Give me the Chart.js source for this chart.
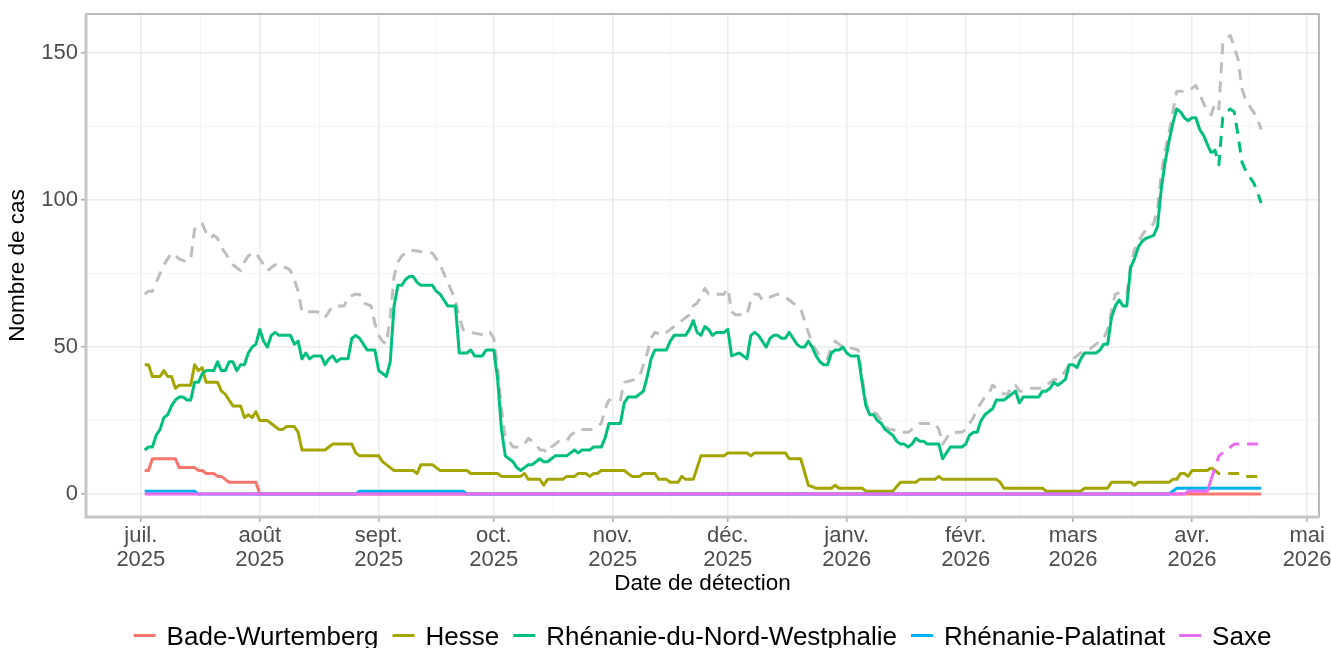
<!DOCTYPE html>
<html><head><meta charset="utf-8">
<script src="https://cdn.jsdelivr.net/npm/chart.js@4.4.1/dist/chart.umd.min.js"></script>
<style>html,body{margin:0;padding:0;background:#fff;overflow:hidden}#wrap{width:1331px;height:648px;position:relative}</style>
</head><body><div id="wrap"><canvas id="c" width="1331" height="648"></canvas></div>
<script>
// Day 0 = 1 July 2025 (detection date, daily counts)
const monthTickDays = [0,31,62,92,123,153,184,215,243,274,304];
const monthTickLabels = [['juil.','2025'],['août','2025'],['sept.','2025'],['oct.','2025'],['nov.','2025'],['déc.','2025'],['janv.','2026'],['févr.','2026'],['mars','2026'],['avr.','2026'],['mai','2026']];
const yTickValues = [0,50,100,150];
const seriesNames = ['Bade-Wurtemberg','Hesse','Rhénanie-du-Nord-Westphalie','Rhénanie-Palatinat','Saxe'];
const provisionalFromDay = 279;

const badeWurtemberg = [[1,8],[2,8],[3,12],[9,12],[10,9],[14,9],[15,8],[16,8],[17,7],[19,7],[20,6],[21,6],[22,5],[23,4],[30,4],[31,0],[292,0]];
const hesse = [[1,44],[2,44],[3,40],[5,40],[6,42],[7,40],[8,40],[9,36],[10,37],[13,37],[14,44],[15,42],[16,43],[17,38],[20,38],[21,35],[22,34],[23,32],[24,30],[26,30],[27,26],[28,27],[29,26],[30,28],[31,25],[33,25],[34,24],[35,23],[36,22],[37,22],[38,23],[40,23],[41,21],[42,15],[48,15],[49,16],[50,17],[55,17],[56,14],[57,13],[62,13],[63,11],[64,10],[65,9],[66,8],[71,8],[72,7],[73,10],[76,10],[77,9],[78,8],[85,8],[86,7],[93,7],[94,6],[99,6],[100,7],[101,5],[104,5],[105,3],[106,5],[110,5],[111,6],[113,6],[114,7],[116,7],[117,6],[118,7],[119,7],[120,8],[126,8],[127,7],[128,6],[130,6],[131,7],[134,7],[135,5],[137,5],[138,4],[140,4],[141,6],[142,5],[144,5],[146,13],[152,13],[153,14],[158,14],[159,13],[160,14],[168,14],[169,12],[172,12],[174,3],[176,2],[180,2],[181,3],[182,2],[188,2],[189,1],[196,1],[198,4],[202,4],[203,5],[207,5],[208,6],[209,5],[223,5],[224,4],[225,2],[235,2],[236,1],[245,1],[246,2],[252,2],[253,4],[258,4],[259,3],[260,4],[268,4],[269,5],[270,5],[271,7],[272,7],[273,6],[274,8],[278,8],[279,9],[280,8],[281,7],[287,7],[288,6],[292,6]];
const rhenanieNordWestphalie = [[1,15],[2,16],[3,16],[4,20],[5,22],[6,26],[7,27],[8,30],[9,32],[10,33],[11,33],[12,32],[13,32],[14,38],[15,38],[16,41],[17,42],[19,42],[20,45],[21,42],[22,42],[23,45],[24,45],[25,42],[26,44],[27,44],[28,48],[29,50],[30,51],[31,56],[32,52],[33,50],[34,54],[35,55],[36,54],[39,54],[40,51],[41,52],[42,46],[43,48],[44,46],[45,47],[47,47],[48,44],[49,46],[50,47],[51,45],[52,46],[54,46],[55,53],[56,54],[57,53],[58,51],[59,49],[61,49],[62,42],[63,41],[64,40],[65,45],[66,64],[67,71],[68,71],[69,73],[70,74],[71,74],[72,72],[73,71],[76,71],[77,69],[78,68],[79,66],[80,64],[82,64],[83,48],[85,48],[86,49],[87,47],[89,47],[90,49],[92,49],[93,39],[94,22],[95,13],[96,12],[97,11],[98,9],[99,8],[100,9],[101,10],[102,10],[103,11],[104,12],[105,11],[106,11],[107,12],[108,13],[111,13],[112,14],[113,15],[114,14],[115,15],[117,15],[118,16],[120,16],[121,19],[122,24],[125,24],[126,31],[127,33],[128,33],[129,33],[130,34],[131,35],[132,40],[133,46],[134,49],[137,49],[138,52],[139,54],[142,54],[143,56],[144,59],[145,55],[146,54],[147,57],[148,56],[149,54],[150,55],[152,55],[153,56],[154,47],[156,48],[157,47],[158,46],[159,54],[160,55],[161,54],[162,52],[163,50],[164,53],[165,54],[166,54],[167,53],[168,53],[169,55],[170,53],[171,51],[172,50],[173,50],[174,52],[175,50],[176,47],[177,45],[178,44],[179,44],[180,48],[181,49],[182,49],[183,50],[184,48],[185,47],[187,47],[188,38],[189,30],[190,27],[191,27],[192,25],[193,24],[194,22],[195,21],[196,20],[197,18],[198,17],[199,17],[200,16],[201,17],[202,19],[203,18],[204,18],[205,17],[208,17],[209,12],[210,14],[211,16],[214,16],[215,17],[216,20],[217,21],[218,21],[219,25],[220,27],[221,28],[222,29],[223,32],[225,32],[226,33],[227,34],[228,35],[229,31],[230,33],[234,33],[235,35],[236,35],[237,36],[238,38],[239,37],[240,38],[241,39],[242,44],[243,44],[244,43],[245,46],[246,48],[249,48],[250,49],[251,51],[252,51],[253,60],[254,64],[255,66],[256,64],[257,64],[258,77],[259,80],[260,84],[261,86],[262,87],[264,88],[265,91],[266,104],[267,113],[268,120],[269,126],[270,131],[271,130],[272,128],[273,127],[274,128],[275,128],[276,124],[277,122],[278,119],[279,116],[280,117],[281,112],[282,128],[283,130],[284,131],[285,130],[286,122],[287,113],[288,110],[289,108],[290,106],[291,103],[292,99]];
const rhenaniePalatinat = [[1,1],[14,1],[15,0],[56,0],[57,1],[84,1],[85,0],[268,0],[270,2],[292,2]];
const saxe = [[1,0],[272,0],[273,1],[278,1],[279,5],[280,9],[281,13],[282,14],[283,15],[284,16],[285,17],[292,17]];
const totalCases = [[1,68],[2,69],[3,69],[4,72],[5,75],[6,78],[7,80],[8,82],[9,81],[10,80],[12,79],[13,80],[14,90],[15,92],[16,92],[17,89],[18,87],[19,88],[20,87],[21,84],[22,82],[23,80],[24,78],[25,77],[26,76],[27,79],[28,81],[29,82],[30,82],[31,80],[32,78],[33,76],[34,77],[35,78],[36,78],[37,77],[38,77],[39,76],[40,73],[41,69],[42,62],[43,62],[46,62],[47,61],[48,60],[49,62],[50,64],[53,64],[54,67],[56,68],[57,68],[58,65],[60,64],[61,58],[62,54],[63,52],[64,51],[65,60],[66,74],[67,79],[68,81],[69,82],[70,83],[76,82],[77,80],[78,78],[79,75],[80,72],[81,69],[82,66],[83,60],[84,56],[85,55],[86,55],[90,54],[91,55],[92,53],[93,43],[94,29],[95,19],[96,18],[97,16],[99,16],[100,17],[101,19],[102,18],[103,17],[104,15],[105,15],[106,14],[107,16],[108,17],[109,18],[111,18],[112,20],[113,21],[114,22],[118,22],[119,23],[120,24],[121,29],[122,32],[125,32],[126,38],[129,39],[130,40],[131,44],[132,48],[133,53],[134,55],[136,54],[137,55],[139,57],[140,58],[142,60],[143,61],[144,64],[145,65],[146,67],[147,70],[148,68],[152,68],[153,70],[154,62],[155,61],[158,61],[159,66],[160,68],[161,68],[162,66],[163,67],[164,67],[166,68],[168,67],[169,66],[170,65],[171,64],[172,63],[173,59],[174,55],[175,51],[176,49],[177,47],[178,46],[179,46],[180,50],[181,52],[182,51],[183,50],[184,50],[187,49],[188,40],[189,31],[190,28],[191,28],[192,27],[193,25],[194,23],[195,22],[196,22],[197,21],[200,21],[201,22],[202,23],[203,24],[207,24],[208,22],[209,17],[210,19],[211,21],[214,21],[215,22],[216,24],[217,26],[218,29],[219,31],[220,33],[221,34],[222,37],[223,36],[224,35],[225,34],[226,34],[227,37],[228,37],[229,35],[230,35],[232,36],[235,36],[236,37],[237,38],[238,39],[239,39],[240,40],[241,42],[242,44],[243,46],[245,48],[247,49],[248,50],[249,51],[250,52],[251,53],[252,56],[253,62],[254,68],[256,69],[257,68],[258,78],[259,83],[260,86],[261,88],[262,90],[264,92],[265,97],[266,109],[267,117],[268,123],[269,130],[270,137],[273,137],[274,138],[275,139],[276,136],[277,133],[278,130],[279,129],[280,133],[281,131],[282,153],[283,155],[284,156],[286,148],[287,138],[288,134],[289,132],[290,130],[291,128],[292,124]];

const seriesData = [badeWurtemberg, hesse, rhenanieNordWestphalie, rhenaniePalatinat, saxe];
const seriesColors = ['#F8766D','#A3A500','#00BF7D','#00B0F6','#E76BF3'];
const FONT = '"Liberation Sans", Arial, sans-serif';
const DASH = [11,8];
const LINE_W = 3;

const minorX = monthTickDays.slice(1).map((d,i)=>(d+monthTickDays[i])/2);
const xTickAll = monthTickDays.concat(minorX).sort((a,b)=>a-b);
const yTickAll = [0,25,50,75,100,125,150];
const isMajorX = v => monthTickDays.includes(v);
const isMajorY = v => yTickValues.includes(v);

const datasets = seriesNames.map((name,i)=>({
  label: name,
  data: seriesData[i],
  borderColor: seriesColors[i],
  backgroundColor: seriesColors[i],
  borderWidth: LINE_W,
  pointRadius: 0,
  tension: 0,
  borderJoinStyle: 'round',
  order: 5 - i,
  segment: { borderDash: ctx => ctx.p0.parsed.x >= provisionalFromDay ? DASH : undefined }
}));
datasets.push({
  label: 'Total',
  data: totalCases,
  borderColor: '#BEBEBE',
  borderWidth: LINE_W,
  borderDash: DASH,
  pointRadius: 0,
  tension: 0,
  borderJoinStyle: 'round',
  order: 6
});

const panelBorder = {
  id: 'panelBorder',
  afterDatasetsDraw(chart) {
    const {ctx, chartArea: a} = chart;
    ctx.save();
    ctx.strokeStyle = '#8c8c8c'; ctx.lineWidth = 1.2;
    ctx.strokeRect(a.left, a.top, a.right - a.left, a.bottom - a.top);
    ctx.strokeStyle = '#c6c6c6'; ctx.lineWidth = 3;
    ctx.beginPath(); ctx.moveTo(a.left, a.top); ctx.lineTo(a.left, a.bottom); ctx.lineTo(a.right, a.bottom); ctx.stroke();
    ctx.restore();
  }
};
const bottomLegend = {
  id: 'bottomLegend',
  afterDraw(chart) {
    const {ctx, chartArea: a} = chart;
    ctx.save();
    ctx.font = '26px ' + FONT;
    const sw = 22, gapText = 11, gapItem = 14;
    const widths = seriesNames.map(n => ctx.measureText(n).width);
    const total = widths.reduce((s,w)=>s+w,0) + seriesNames.length*(sw+gapText) + (seriesNames.length-1)*gapItem;
    let x = (a.left + a.right)/2 - total/2;
    const baseY = 645;
    seriesNames.forEach((n,i)=>{
      ctx.strokeStyle = seriesColors[i]; ctx.lineWidth = 3;
      ctx.beginPath(); ctx.moveTo(x, baseY-9.5); ctx.lineTo(x+sw, baseY-9.5); ctx.stroke();
      x += sw + gapText;
      ctx.fillStyle = '#000'; ctx.textBaseline = 'alphabetic'; ctx.textAlign = 'left';
      ctx.fillText(n, x, baseY);
      x += widths[i] + gapItem;
    });
    ctx.restore();
  }
};

new Chart(document.getElementById('c'), {
  type: 'line',
  data: { datasets },
  plugins: [panelBorder, bottomLegend],
  options: {
    responsive: false,
    animation: false,
    devicePixelRatio: 1,
    layout: { padding: { left: 0, right: 12, top: 14, bottom: 0 } },
    plugins: { legend: { display: false }, tooltip: { enabled: false } },
    scales: {
      x: {
        type: 'linear', min: -14.3, max: 307.1,
        afterBuildTicks: s => { s.ticks = xTickAll.map(v => ({value: v})); },
        afterFit: s => { s.height = 131; s.paddingLeft = 0; s.paddingRight = 0; },
        ticks: {
          autoSkip: false, maxRotation: 0, minRotation: 0, padding: 2,
          color: '#4D4D4D', font: { family: FONT, size: 22, lineHeight: 1.1 },
          callback: v => { const i = monthTickDays.indexOf(v); return i >= 0 ? monthTickLabels[i] : ''; }
        },
        grid: {
          color: c => (c.tick && isMajorX(c.tick.value)) ? '#EBEBEB' : '#F4F4F4',
          lineWidth: c => (c.tick && isMajorX(c.tick.value)) ? 1.5 : 0.9,
          tickColor: c => (c.tick && isMajorX(c.tick.value)) ? '#a8a8a8' : 'rgba(0,0,0,0)',
          tickLength: 5, tickWidth: 1.5
        },
        border: { display: false },
        title: { display: true, text: 'Date de détection', color: '#000', font: { family: FONT, size: 22.5, lineHeight: 1.2 }, padding: { top: 0, bottom: 50.5 } }
      },
      y: {
        type: 'linear', min: -7.8, max: 163.3,
        afterBuildTicks: s => { s.ticks = yTickAll.map(v => ({value: v})); },
        afterFit: s => { s.width = 86; s.paddingTop = 0; s.paddingBottom = 0; },
        ticks: {
          padding: 3, color: '#4D4D4D', font: { family: FONT, size: 22 },
          callback: v => isMajorY(v) ? String(v) : ''
        },
        grid: {
          color: c => (c.tick && isMajorY(c.tick.value)) ? '#EBEBEB' : '#F4F4F4',
          lineWidth: c => (c.tick && isMajorY(c.tick.value)) ? 1.5 : 0.9,
          tickColor: c => (c.tick && isMajorY(c.tick.value)) ? '#a8a8a8' : 'rgba(0,0,0,0)',
          tickLength: 5, tickWidth: 1.5
        },
        border: { display: false },
        title: { display: true, text: 'Nombre de cas', color: '#000', font: { family: FONT, size: 22.5, lineHeight: 1.2 }, padding: { top: 4, bottom: 0 } }
      }
    }
  }
});
</script>
</body></html>
